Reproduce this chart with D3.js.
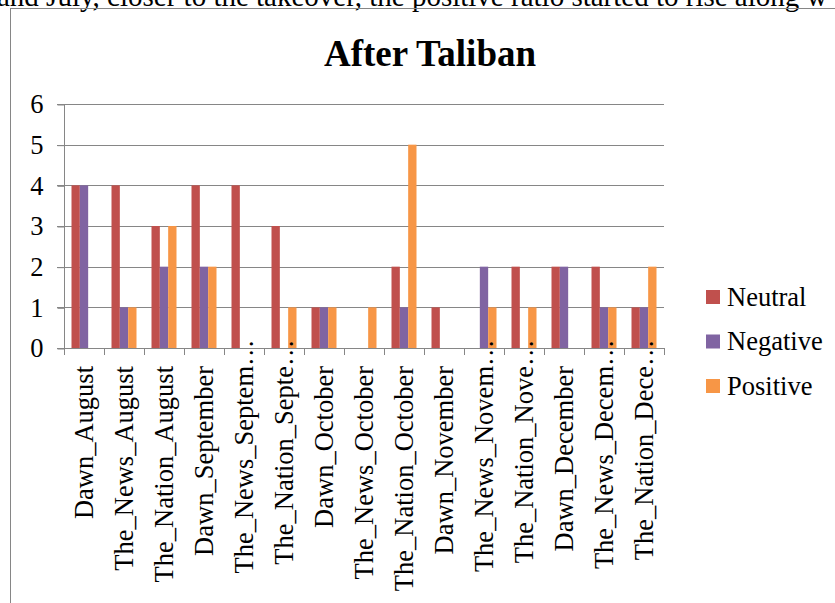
<!DOCTYPE html>
<html>
<head>
<meta charset="utf-8">
<script src="https://cdn.jsdelivr.net/npm/d3@7/dist/d3.min.js"></script>
<style>
  html, body { margin: 0; padding: 0; background: #fff; }
  svg { display: block; }
  text { font-family: "Liberation Serif", "Times New Roman", serif; fill: #000; }
</style>
</head>
<body>
<svg id="chart" width="835" height="603"></svg>
<script>
// ---- data ----
const categories = [
  "Dawn_August", "The_News_August", "The_Nation_August",
  "Dawn_September", "The_News_Septem\u2026", "The_Nation_Septe\u2026",
  "Dawn_October", "The_News_October", "The_Nation_October",
  "Dawn_November", "The_News_Novem\u2026", "The_Nation_Nove\u2026",
  "Dawn_December", "The_News_Decem\u2026", "The_Nation_Dece\u2026"
];
const seriesNames = ["Neutral", "Negative", "Positive"];
const neutral  = [4, 4, 3, 4, 4, 3, 1, 0, 2, 1, 0, 2, 2, 2, 1];
const negative = [4, 1, 2, 2, 0, 0, 1, 0, 1, 0, 2, 0, 2, 1, 1];
const positive = [0, 1, 3, 2, 0, 1, 1, 1, 5, 0, 1, 1, 0, 1, 2];
const yTicks = [0, 1, 2, 3, 4, 5, 6];
const colors = ["#C0504D", "#8064A2", "#F79646"];
const title = "After Taliban";
const bodyText = "and July, closer to the takeover, the positive ratio started to rise along w";

const values = [neutral, negative, positive];
const serif = "'Liberation Serif', 'Times New Roman', serif";
const fs = "26.5px";

const svg = d3.select("#chart");

// page text cut at top
svg.append("text").attr("x", -3).attr("y", 6)
  .style("font-family", serif).style("font-size", "29px").text(bodyText);

// chart frame
svg.append("rect").attr("x", 10.5).attr("y", 8.5).attr("width", 900).attr("height", 700)
  .attr("fill", "none").attr("stroke", "#868686").attr("stroke-width", 1);

// title
svg.append("text").attr("x", 430).attr("y", 66).attr("text-anchor", "middle")
  .style("font-family", serif).style("font-size", "37px").style("font-weight", "bold").text(title);

const x = d3.scaleBand().domain(categories).range([64, 664]).padding(0);
const xs = d3.scaleBand().domain(seriesNames).range([7.5, x.bandwidth() - 7.5]).padding(0);
const y = d3.scaleLinear().domain([0, 6]).range([348, 104]);

// gridlines
svg.append("g").selectAll("line").data(yTicks).join("line")
  .attr("x1", 57).attr("x2", 664)
  .attr("y1", d => Math.round(y(d)) + 0.5).attr("y2", d => Math.round(y(d)) + 0.5)
  .attr("stroke", "#868686").attr("stroke-width", 1);

// y axis
const yAxis = svg.append("g").attr("transform", "translate(64.5,0.5)")
  .call(d3.axisLeft(y).tickValues(yTicks).tickSize(7).tickPadding(14).tickFormat(d3.format("d")));
yAxis.select(".domain").remove();
yAxis.selectAll(".tick line").attr("stroke", "#868686");
yAxis.selectAll(".tick text").style("font-size", fs)
  .style("font-family", serif).attr("fill", "#000");
svg.append("line").attr("x1", 64.5).attr("x2", 64.5).attr("y1", y(6)).attr("y2", y(0) + 7)
  .attr("stroke", "#868686");

// bars
const groups = svg.append("g").selectAll("g").data(categories).join("g")
  .attr("transform", d => `translate(${x(d)},0)`);
groups.selectAll("rect").data((d, i) => seriesNames.map((s, j) => ({ s, v: values[j][i], c: colors[j] })))
  .join("rect")
  .attr("x", d => xs(d.s))
  .attr("width", xs.bandwidth())
  .attr("y", d => y(d.v))
  .attr("height", d => y(0) - y(d.v))
  .attr("fill", d => d.c);

// x axis ticks at band boundaries
const bounds = categories.map(c => x(c)).concat([x.range()[1]]);
svg.append("g").selectAll("line").data(bounds).join("line")
  .attr("x1", d => Math.round(d) + 0.5).attr("x2", d => Math.round(d) + 0.5)
  .attr("y1", y(0)).attr("y2", y(0) + 7)
  .attr("stroke", "#868686");

// x labels (rotated)
const labelEnd = 366;
const lbl = svg.append("g").selectAll("g").data(categories).join("g")
  .attr("transform", d => `translate(${x(d) + x.bandwidth() / 2},${labelEnd}) rotate(-90)`);
lbl.append("text")
  .attr("text-anchor", "end").attr("dy", "0.34em")
  .style("font-family", serif).style("font-size", fs)
  .text(d => d.replace("\u2026", ""));
lbl.filter(d => d.endsWith("\u2026")).append("text")
  .attr("text-anchor", "start").attr("dy", "0.34em")
  .style("font-family", serif).style("font-size", fs)
  .text("\u2026");

// legend
const legend = svg.append("g").selectAll("g").data(seriesNames).join("g")
  .attr("transform", (d, i) => `translate(706,${297 + i * 44.5})`);
legend.append("rect").attr("x", 0).attr("y", -7).attr("width", 14).attr("height", 14)
  .attr("fill", (d, i) => colors[i]);
legend.append("text").attr("x", 21).attr("dy", "0.33em")
  .style("font-family", serif).style("font-size", fs).text(d => d);
</script>
</body>
</html>
